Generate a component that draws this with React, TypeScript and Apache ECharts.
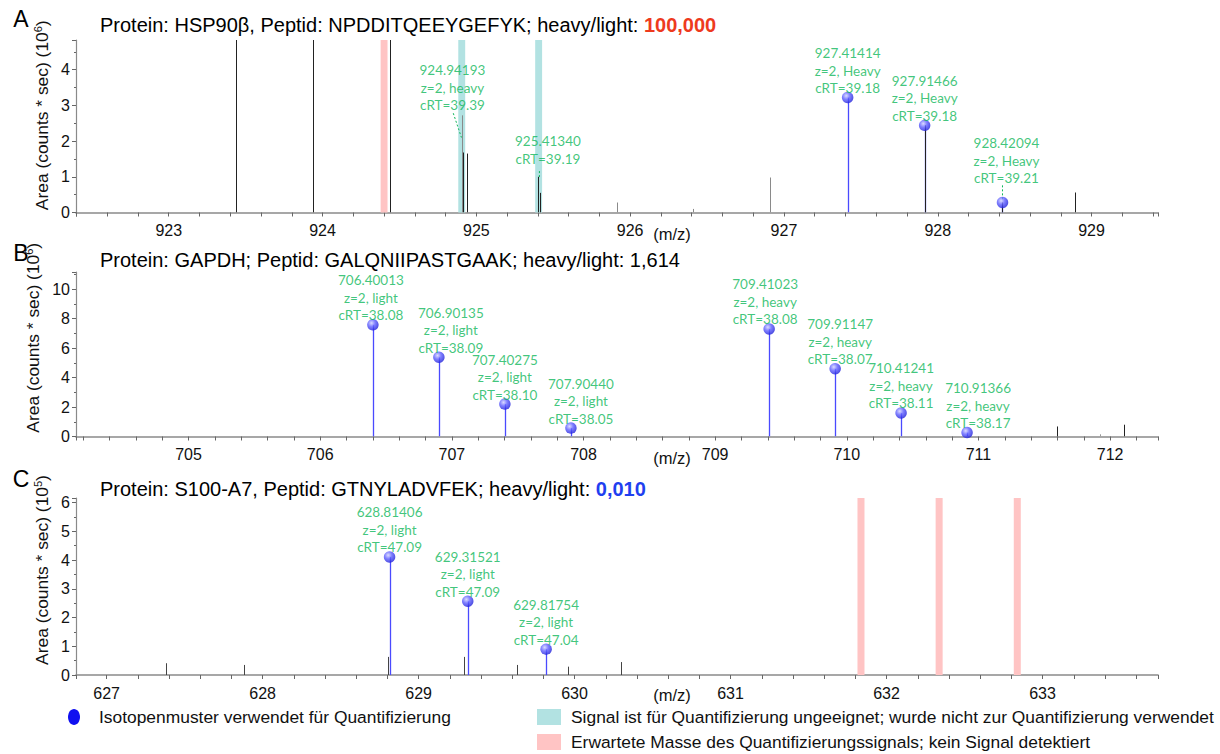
import React, { useEffect, useRef } from 'react';
import * as echarts from 'echarts';

type Peak = { mz: number; area: number; z?: number; kind?: string; crt: number };

// ---------- Panel A: HSP90β ----------
const proteinA = 'HSP90β';
const peptideA = 'NPDDITQEEYGEFYK';
const ratioA = '100,000';
const mzRangeA = [922.397, 929.432];
const areaMaxA = 4.83;
const quantA: Peak[] = [
  { mz: 927.41414, area: 3.22, z: 2, kind: 'Heavy', crt: 39.18 },
  { mz: 927.91466, area: 2.44, z: 2, kind: 'Heavy', crt: 39.18 },
  { mz: 928.42094, area: 0.28, z: 2, kind: 'Heavy', crt: 39.21 },
];
const excludedA: Peak[] = [
  { mz: 924.94193, area: 2.72, z: 2, kind: 'heavy', crt: 39.39 },
  { mz: 925.4134, area: 1.0, crt: 39.19 },
];
const sticksA = [
  [923.44, 4.83], [923.94, 4.83], [924.44, 4.83], [924.912, 1.68], [924.94, 1.65],
  [925.4, 1.0], [925.415, 0.55], [927.915, 2.44], [928.42, 0.28], [928.89, 0.56],
];
const faintSticksA = [[924.905, 2.72], [925.915, 0.28], [926.41, 0.1], [926.91, 0.98]];
const unsuitableA = [924.905, 925.405];
const missingA = [924.4];
// label leader lines [mz1, area1, mz2, area2]
const leadersA = [
  [924.85, 2.78, 924.903, 2.1],
  [925.41, 1.16, 925.41, 0.98],
  [928.42094, 0.76, 928.42094, 0.36],
];

// ---------- Panel B: GAPDH ----------
const proteinB = 'GAPDH';
const peptideB = 'GALQNIIPASTGAAK';
const ratioB = '1,614';
const mzRangeB = [704.145, 712.364];
const areaMaxB = 11.16;
const quantB: Peak[] = [
  { mz: 706.40013, area: 7.58, z: 2, kind: 'light', crt: 38.08 },
  { mz: 706.90135, area: 5.38, z: 2, kind: 'light', crt: 38.09 },
  { mz: 707.40275, area: 2.2, z: 2, kind: 'light', crt: 38.1 },
  { mz: 707.9044, area: 0.57, z: 2, kind: 'light', crt: 38.05 },
  { mz: 709.41023, area: 7.3, z: 2, kind: 'heavy', crt: 38.08 },
  { mz: 709.91147, area: 4.6, z: 2, kind: 'heavy', crt: 38.07 },
  { mz: 710.41241, area: 1.6, z: 2, kind: 'heavy', crt: 38.11 },
  { mz: 710.91366, area: 0.27, z: 2, kind: 'heavy', crt: 38.17 },
];
const sticksB = [[711.6, 0.68], [712.106, 0.8]];
const faintSticksB = [[711.92, 0.15]];

// ---------- Panel C: S100-A7 ----------
const proteinC = 'S100-A7';
const peptideC = 'GTNYLADVFEK';
const ratioC = '0,010';
const mzRangeC = [626.804, 633.74];
const areaMaxC = 6.16;
const quantC: Peak[] = [
  { mz: 628.81406, area: 4.11, z: 2, kind: 'light', crt: 47.09 },
  { mz: 629.31521, area: 2.57, z: 2, kind: 'light', crt: 47.09 },
  { mz: 629.81754, area: 0.9, z: 2, kind: 'light', crt: 47.04 },
];
const sticksC = [
  [627.38, 0.41], [627.88, 0.35], [628.806, 0.63], [629.29, 0.63],
  [629.63, 0.35], [629.96, 0.29], [630.3, 0.45],
];
const missingC = [631.836, 632.337, 632.838];

// ---------- Legend texts ----------
const legendQuant = 'Isotopenmuster verwendet für Quantifizierung';
const legendUnsuitable = 'Signal ist für Quantifizierung ungeeignet; wurde nicht zur Quantifizierung verwendet';
const legendMissing = 'Erwartete Masse des Quantifizierungssignals; kein Signal detektiert';

// ---------- styling ----------
const GREEN = '#0fb75a';
const CYAN = '#b2e2e2';
const PINK = '#ffc4c4';
const BLUE_STEM = '#4a4aff';
const SANS = '"Liberation Sans", Arial, sans-serif';
const LABEL_FONT = 'Lato, "Open Sans", sans-serif';
const BAND_W = 0.045;

const labelShift: Record<string, [number, number]> = {
  '924.94193': [-15, 0],
  '925.41340': [8, -8],
  '928.42094': [4, -15],
  '706.40013': [-2, 0],
  '706.90135': [12, 0],
  '707.90440': [10, 0],
  '709.41023': [-4, 0],
  '709.91147': [5, 0],
  '710.91366': [11, 0],
};

const intLabel = (v: number) => (Math.abs(v - Math.round(v)) < 1e-6 ? String(Math.round(v)) : '');

function peakText(p: Peak) {
  const lines = [p.mz.toFixed(5)];
  if (p.z) lines.push(`z=${p.z}, ${p.kind}`);
  lines.push(`cRT=${p.crt.toFixed(2)}`);
  return lines.join('\n');
}

function stickSeries(i: number, data: number[][], color: string, width: number, z: number) {
  return {
    type: 'custom',
    xAxisIndex: i,
    yAxisIndex: i,
    data,
    z,
    silent: true,
    clip: true,
    encode: { x: 0, y: 1 },
    renderItem: (_p: any, api: any) => {
      const x = api.value(0);
      const y = api.value(1);
      const p0 = api.coord([x, 0]);
      const p1 = api.coord([x, y]);
      const cx = Math.round(p0[0]) + 0.5;
      return {
        type: 'line',
        shape: { x1: cx, y1: p0[1], x2: cx, y2: p1[1] },
        style: { stroke: color, lineWidth: width },
      };
    },
  };
}

function leaderSeries(i: number, data: number[][]) {
  return {
    type: 'custom',
    xAxisIndex: i,
    yAxisIndex: i,
    data,
    z: 5,
    silent: true,
    encode: { x: [0, 2], y: [1, 3] },
    renderItem: (_p: any, api: any) => {
      const a = api.coord([api.value(0), api.value(1)]);
      const b = api.coord([api.value(2), api.value(3)]);
      return {
        type: 'line',
        shape: { x1: a[0], y1: a[1], x2: b[0], y2: b[1] },
        style: { stroke: GREEN, lineWidth: 1, lineDash: [2, 2] },
      };
    },
  };
}

function bandSeries(i: number, centers: number[], color: string, top: number) {
  return {
    type: 'custom',
    xAxisIndex: i,
    yAxisIndex: i,
    data: centers.map((m) => [m, top]),
    z: 1,
    silent: true,
    encode: { x: 0, y: 1 },
    renderItem: (_p: any, api: any) => {
      const m = api.value(0);
      const a = api.coord([m - BAND_W / 2, api.value(1)]);
      const b = api.coord([m + BAND_W / 2, 0]);
      return {
        type: 'rect',
        shape: { x: a[0], y: a[1], width: b[0] - a[0], height: b[1] - a[1] },
        style: { fill: color },
      };
    },
  };
}

const sphere = {
  type: 'radial',
  x: 0.38,
  y: 0.35,
  r: 0.7,
  colorStops: [
    { offset: 0, color: '#d2d2ff' },
    { offset: 0.45, color: '#6060ff' },
    { offset: 1, color: '#1a1ad6' },
  ],
};

function labelSeries(i: number, peaks: Peak[], withSymbol: boolean) {
  return {
    type: 'scatter',
    xAxisIndex: i,
    yAxisIndex: i,
    z: 6,
    symbol: 'circle',
    symbolSize: withSymbol ? 11.5 : 1,
    itemStyle: withSymbol ? { color: sphere as any } : { color: 'rgba(0,0,0,0)' },
    data: peaks.map((p) => ({
      value: [p.mz, p.area],
      label: { offset: labelShift[p.mz.toFixed(5)] || [0, 0] },
    })),
    label: {
      show: true,
      position: 'top',
      distance: withSymbol ? -5 : 1,
      color: GREEN,
      fontSize: 13.5,
      lineHeight: 17.5,
      fontFamily: LABEL_FONT,
      formatter: (params: any) => peakText(peaks[params.dataIndex]),
    },
  };
}

function xAxis(i: number, range: number[]) {
  return {
    type: 'value',
    gridIndex: i,
    min: range[0],
    max: range[1],
    minInterval: 1,
    maxInterval: 1,
    splitNumber: 7,
    splitLine: { show: false },
    axisLine: { onZero: false, lineStyle: { color: '#8a8a8a', width: 1.6 } },
    axisTick: { show: true, length: 4, lineStyle: { color: '#666' } },
    minorTick: { show: true, splitNumber: 5, length: 4, lineStyle: { color: '#666' } },
    axisLabel: { formatter: intLabel, fontSize: 16, color: '#111', margin: 10, fontFamily: SANS },
  };
}

function yAxis(i: number, max: number, interval: number, exp: string, shift: number) {
  return {
    type: 'value',
    gridIndex: i,
    min: 0,
    max,
    interval,
    splitLine: { show: false },
    axisLine: { show: true, lineStyle: { color: '#8a8a8a', width: 1.2 } },
    axisTick: { show: true, length: 4, lineStyle: { color: '#666' } },
    minorTick: { show: true, splitNumber: 2, length: 2, lineStyle: { color: '#666' } },
    axisLabel: { formatter: intLabel, fontSize: 16, color: '#111', margin: 6, fontFamily: SANS },
    name: `{a|Area (counts * sec) (10}{s|${exp}}{a|)}`,
    nameLocation: 'middle',
    nameGap: 19,
    nameTextStyle: {
      fontSize: 17.4,
      color: '#111',
      fontFamily: SANS,
      padding: [0, 0, 0, shift],
      rich: {
        a: { fontSize: 17.4, color: '#111', fontFamily: SANS },
        s: { fontSize: 11, color: '#111', fontFamily: SANS, verticalAlign: 'top', padding: [0, 0, 8, 0] },
      },
    },
  };
}

export default function App() {
  const ref = useRef<HTMLDivElement>(null);
  useEffect(() => {
    if (!ref.current) return;
    const chart = echarts.init(ref.current, undefined, { renderer: 'svg' });
    const base = { fontSize: 20, fontFamily: SANS, color: '#000', lineHeight: 23, fontWeight: 'normal' };
    const titles = [
      {
        text: `{n|Protein: ${proteinA}, Peptid: ${peptideA}; heavy/light: }{r|${ratioA}}`,
        left: 100,
        top: 13,
        padding: 0,
        textStyle: {
          fontWeight: 'normal',
          rich: {
            n: base,
            r: { ...base, color: '#ee3a1d', fontWeight: 'bold' },
          },
        },
      },
      {
        text: `{n|Protein: ${proteinB}; Peptid: ${peptideB}; heavy/light: ${ratioB}}`,
        left: 100,
        top: 248,
        padding: 0,
        textStyle: { fontWeight: 'normal', rich: { n: base } },
      },
      {
        text: `{n|Protein: ${proteinC}, Peptid: ${peptideC}; heavy/light: }{r|${ratioC}}`,
        left: 100,
        top: 477,
        padding: 0,
        textStyle: {
          fontWeight: 'normal',
          rich: {
            n: base,
            r: { ...base, color: '#1f3ff0', fontWeight: 'bold' },
          },
        },
      },
    ];
    const letter = (t: string, y: number) => ({
      type: 'text',
      x: 21,
      y,
      style: { text: t, fontSize: 23, fontFamily: SANS, fill: '#000', align: 'center', verticalAlign: 'middle' },
    });
    const mz = (y: number) => ({
      type: 'text',
      x: 672,
      y,
      style: { text: '(m/z)', fontSize: 16.5, fontFamily: SANS, fill: '#111', align: 'center', verticalAlign: 'middle' },
    });
    const legendText = (t: string, x: number, y: number) => ({
      type: 'text',
      x,
      y,
      style: { text: t, fontSize: 17.4, fontFamily: SANS, fill: '#111', verticalAlign: 'middle' },
    });

    const option: any = {
      animation: false,
      backgroundColor: '#fff',
      title: titles,
      grid: [
        { left: 76, right: 62, top: 40, height: 172.5 },
        { left: 76, right: 62, top: 272, height: 164.5 },
        { left: 76, right: 62, top: 498, height: 177 },
      ],
      xAxis: [xAxis(0, mzRangeA), xAxis(1, mzRangeB), xAxis(2, mzRangeC)],
      yAxis: [
        yAxis(0, areaMaxA, 1, '6', 22),
        yAxis(1, areaMaxB, 2, '6', 33),
        yAxis(2, areaMaxC, 1, '5', 33),
      ],
      series: [
        // Panel A
        bandSeries(0, unsuitableA, CYAN, areaMaxA),
        bandSeries(0, missingA, PINK, areaMaxA),
        stickSeries(0, faintSticksA, '#8a8a8a', 1, 2),
        stickSeries(0, quantA.map((p) => [p.mz, p.area]), BLUE_STEM, 1.3, 3),
        stickSeries(0, sticksA, '#222', 1, 4),
        leaderSeries(0, leadersA),
        labelSeries(0, excludedA, false),
        labelSeries(0, quantA, true),
        // Panel B
        stickSeries(1, faintSticksB, '#999', 1, 2),
        stickSeries(1, quantB.map((p) => [p.mz, p.area]), BLUE_STEM, 1.3, 3),
        stickSeries(1, sticksB, '#222', 1, 4),
        labelSeries(1, quantB, true),
        // Panel C
        bandSeries(2, missingC, PINK, areaMaxC),
        stickSeries(2, quantC.map((p) => [p.mz, p.area]), BLUE_STEM, 1.3, 3),
        stickSeries(2, sticksC, '#444', 1, 4),
        labelSeries(2, quantC, true),
      ],
      graphic: [
        letter('A', 19),
        letter('B', 253),
        letter('C', 479),
        mz(234),
        mz(458),
        mz(695),
        { type: 'ellipse', shape: { cx: 74, cy: 717, rx: 6, ry: 8 }, style: { fill: '#1010f0' } },
        legendText(legendQuant, 99, 717),
        { type: 'rect', shape: { x: 537, y: 709, width: 24, height: 16 }, style: { fill: CYAN } },
        legendText(legendUnsuitable, 571, 717),
        { type: 'rect', shape: { x: 537, y: 734, width: 24, height: 16 }, style: { fill: PINK } },
        legendText(legendMissing, 571, 742),
      ],
    };
    chart.setOption(option);
    return () => chart.dispose();
  }, []);
  return (
    <div
      ref={ref}
      style={{ position: 'fixed', left: 0, top: 0, width: 1220, height: 754, background: '#fff' }}
    />
  );
}
